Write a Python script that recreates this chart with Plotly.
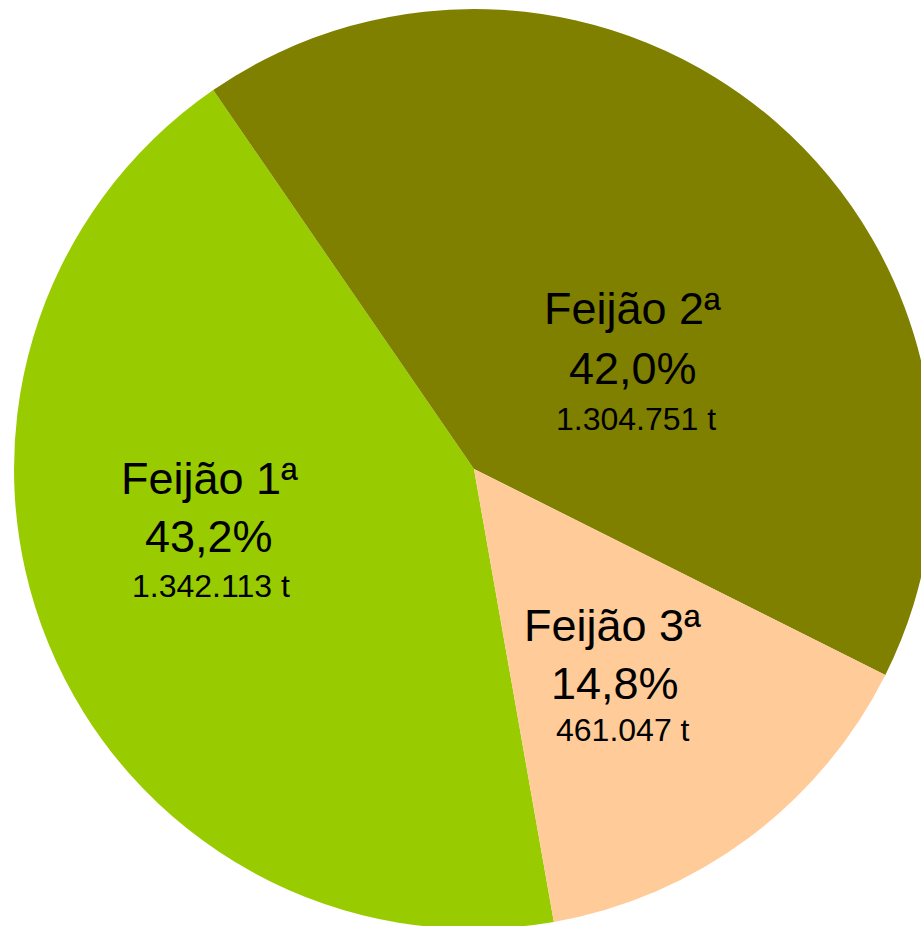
import plotly.graph_objects as go

# ---- data ----
categories = ["Feijão 1ª", "Feijão 2ª", "Feijão 3ª"]
tonnes = [1342113, 1304751, 461047]

# ---- style / layout ----
colors = ["#99CC00", "#808000", "#FFCC99"]
FIG_W, FIG_H = 948, 938
CX, CY, R = 474, 469, 460
# per-slice label line positions (pixel centre x, baseline y) for name, percent, tonnes
label_lines = [
    [(209.5, 495), (209, 553), (210.5, 598)],
    [(632, 325), (633, 385), (636, 431)],
    [(612, 642), (614.5, 700), (623, 742)],
]
line_sizes = [45, 45, 32]
FONT = "Liberation Sans, Arial, sans-serif"

total = sum(tonnes)
pct_text = [f"{v / total * 100:.1f}".replace(".", ",") + "%" for v in tonnes]
ton_text = [f"{v:,}".replace(",", ".") + " t" for v in tonnes]

fig = go.Figure(
    go.Pie(
        labels=categories,
        values=tonnes,
        marker=dict(colors=colors, line=dict(width=0)),
        sort=False,
        direction="clockwise",
        rotation=170,
        textinfo="none",
        hoverinfo="none",
        showlegend=False,
        domain=dict(
            x=[(CX - R) / FIG_W, (CX + R) / FIG_W],
            y=[1 - (CY + R) / FIG_H, 1 - (CY - R) / FIG_H],
        ),
    )
)

annotations = []
for i, cat in enumerate(categories):
    texts = [cat, pct_text[i], ton_text[i]]
    for j, t in enumerate(texts):
        px, base = label_lines[i][j]
        size = line_sizes[j]
        cy = base - 0.36 * size
        annotations.append(
            dict(
                text=t,
                x=px / FIG_W,
                y=1 - cy / FIG_H,
                xref="paper",
                yref="paper",
                xanchor="center",
                yanchor="middle",
                showarrow=False,
                font=dict(family=FONT, size=size, color="black"),
            )
        )

fig.update_layout(
    width=FIG_W,
    height=FIG_H,
    margin=dict(l=0, r=0, t=0, b=0),
    paper_bgcolor="white",
    plot_bgcolor="white",
    annotations=annotations,
)

fig.write_html(
    "out.html",
    config={"displayModeBar": False},
    post_script="document.body.style.margin='0';document.body.style.overflow='hidden';",
)
